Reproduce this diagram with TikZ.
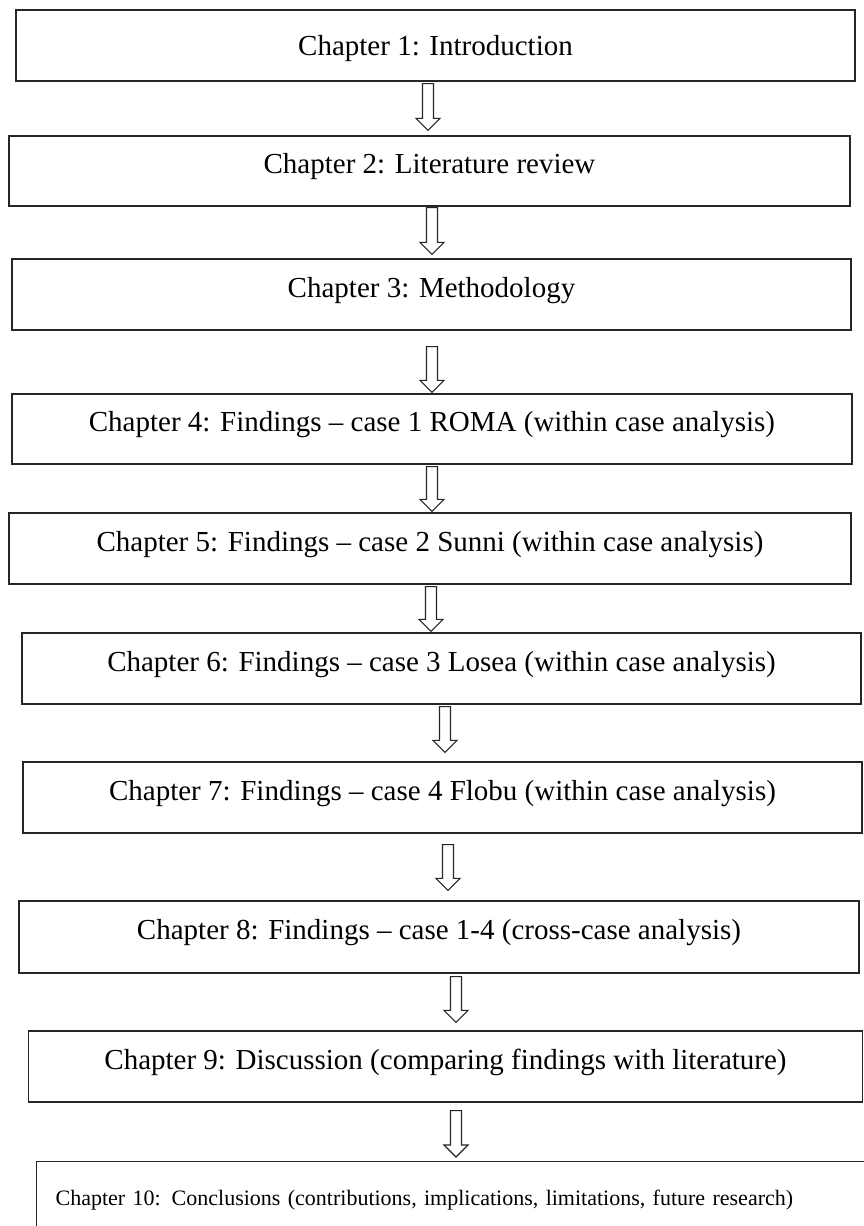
\documentclass[tikz,border=0pt]{standalone}
\usepackage{fontspec}
\setmainfont{Liberation Serif}
\usetikzlibrary{calc}
\begin{document}
\begin{tikzpicture}[x=1pt,y=-1pt,
  chapter/.style={draw=black!85, line width=1.3pt, inner sep=0pt,
    font=\fontsize{29}{34}\selectfont, text height=20pt, text depth=14.8pt},
  lastchapter/.style={draw=black!85, line width=1.3pt, inner xsep=19pt, inner ysep=0pt,
    font=\fontsize{22}{26}\selectfont, text height=15pt, text depth=16pt,
    align=left, anchor=north west},
  % hollow block arrow; #1 = gap below the source, #2 = gap above the target
  blockarrow/.style 2 args={draw=black!85, line width=1.1pt, fill=white,
    to path={let \p1=(\tikztostart), \p2=(\tikztotarget) in
      (\x1-5.5pt,\y1-#1) -- (\x1-5.5pt,\y2+#2+12pt) -- (\x1-12pt,\y2+#2+12pt)
      -- (\x1,\y2+#2) -- (\x1+12pt,\y2+#2+12pt) -- (\x1+5.5pt,\y2+#2+12pt)
      -- (\x1+5.5pt,\y1-#1) -- cycle}}
]
\useasboundingbox[fill=white] (0,0) rectangle (864,1226);
\clip (0,0) rectangle (864,1226);

\node[chapter, text depth=1pt, minimum width=839pt, minimum height=71pt] (c1) at (435.5,45.5)
  {Chapter 1: Introduction};
\node[chapter, minimum width=841pt, minimum height=70pt] (c2) at (429.5,171)
  {Chapter 2: Literature review};
\node[chapter, minimum width=839pt, minimum height=71pt] (c3) at (431.5,294.5)
  {Chapter 3: Methodology};
\node[chapter, minimum width=840pt, minimum height=70pt] (c4) at (432,429)
  {Chapter 4: Findings – case 1 ROMA (within case analysis)};
\node[chapter, minimum width=842pt, minimum height=71pt] (c5) at (430,548.5)
  {Chapter 5: Findings – case 2 Sunni (within case analysis)};
\node[chapter, minimum width=839pt, minimum height=71pt] (c6) at (441.5,668.5)
  {Chapter 6: Findings – case 3 Losea (within case analysis)};
\node[chapter, minimum width=839pt, minimum height=71pt] (c7) at (442.5,797.5)
  {Chapter 7: Findings – case 4 Flobu (within case analysis)};
\node[chapter, minimum width=840pt, minimum height=72pt] (c8) at (439,937)
  {Chapter 8: Findings – case 1-4 (cross-case analysis)};
\node[chapter, minimum width=834pt, minimum height=71pt] (c9) at (445.5,1066.5)
  {Chapter 9: Discussion (comparing findings with literature)};
\node[lastchapter, text width=796pt, minimum height=89pt] (c10) at (36,1161)
  {Chapter 10: Conclusions (contributions, implications, limitations, future research)};

\draw[blockarrow={2pt}{5pt}]  ([xshift=-7.5pt]c1.south) to (c2.north);
\draw[blockarrow={1pt}{4pt}]  ([xshift=2.5pt]c2.south)  to (c3.north);
\draw[blockarrow={16pt}{1pt}] ([xshift=0.5pt]c3.south)  to (c4.north);
\draw[blockarrow={2pt}{1pt}]  ([xshift=0pt]c4.south)    to (c5.north);
\draw[blockarrow={2pt}{1pt}]  ([xshift=1pt]c5.south)    to (c6.north);
\draw[blockarrow={2pt}{9pt}]  ([xshift=3.5pt]c6.south)  to (c7.north);
\draw[blockarrow={11pt}{10pt}] ([xshift=5.5pt]c7.south) to (c8.north);
\draw[blockarrow={3pt}{8pt}]  ([xshift=17pt]c8.south)   to (c9.north);
\draw[blockarrow={8pt}{4pt}]  ([xshift=10.5pt]c9.south) to (c10.north);
\end{tikzpicture}
\end{document}
